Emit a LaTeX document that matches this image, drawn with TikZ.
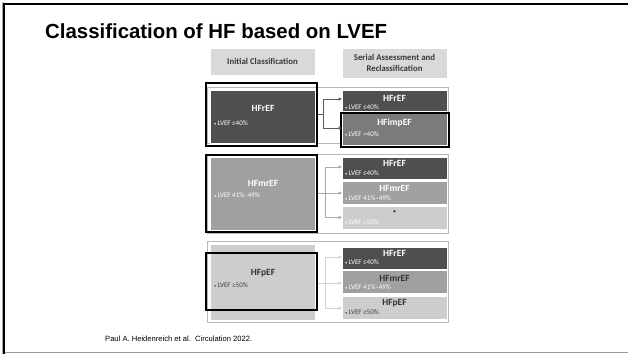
\documentclass[tikz,border=0pt]{standalone}
\usepackage{fontspec}
\setmainfont{Liberation Sans}
\newfontfamily\boxfont{Carlito}
\usetikzlibrary{arrows.meta}

\definecolor{gdark}{HTML}{4F4F4F}
\definecolor{gimp}{HTML}{7B7B7B}
\definecolor{gmid}{HTML}{A0A0A0}
\definecolor{glight}{HTML}{CDCDCD}
\definecolor{ghead}{HTML}{D9D9D9}
\definecolor{gframe}{HTML}{B8B8B8}
\definecolor{arrA}{HTML}{5A5A5A}
\definecolor{arrB}{HTML}{A8A8A8}
\definecolor{arrC}{HTML}{D2D2D2}

% small list bullet
\newcommand{\sbul}{{\fontsize{4.5}{5}\selectfont\raisebox{0.3pt}{•}}\,}

\tikzset{
  panel/.style={draw=white, line width=0.8pt, inner sep=0pt, outer sep=0pt},
  groupframe/.style={draw=gframe, line width=0.7pt, fill=white},
  highlight/.style={draw=black, line width=2pt, inner sep=0pt},
  headbox/.style={fill=ghead, draw=white, inner sep=0pt, align=center,
    font=\boxfont\bfseries\fontsize{8.8}{10.5}\selectfont, text=black!78},
  bigname/.style={font=\boxfont\bfseries\fontsize{9.5}{10}\selectfont, inner sep=0pt},
  smallname/.style={font=\boxfont\bfseries\fontsize{9.5}{10}\selectfont, inner sep=0pt},
  crit/.style={font=\boxfont\fontsize{7}{8}\selectfont, inner sep=0pt, anchor=west},
  flow/.style={line width=0.7pt, -{Triangle[length=3.5pt,width=3pt]}},
}

\begin{document}
\begin{tikzpicture}[x=1pt,y=-1pt]
\useasboundingbox (0,0) rectangle (628,354);
\fill[white] (0,0) rectangle (628,354);

% slide frame
\draw[black, line width=2pt] (4,354) -- (4,3.7) -- (628,3.7);
\draw[gray!70, line width=0.8pt] (2,354) -- (2,2);
\draw[gray!80, line width=1.2pt] (5,352.6) -- (628,352.6);

% heading
\node[font=\bfseries\fontsize{20.4}{23}\selectfont, anchor=west, inner sep=0pt] (title) at (45,31) {Classification of HF based on LVEF};

% column headers
\node[headbox, minimum width=105pt, minimum height=27pt] (hInit) at (262.5,61.5) {Initial Classification};
\node[headbox, minimum width=105pt, minimum height=30pt] (hSerial) at (394.5,63) {Serial Assessment and\\Reclassification};

% ===== group 1 : HFrEF =====
\node[groupframe, minimum width=241pt, minimum height=56pt, inner sep=0pt] (g1) at (327.5,115) {};
\node[panel, fill=gdark, minimum width=105pt, minimum height=53pt] (l1) at (262.5,116.5) {};
\node[bigname, text=white] (l1t) at (263,108) {HFrEF};
\node[crit, text=white] (l1c) at (214,123) {\sbul LVEF ≤40\%};
\node[panel, fill=gdark, minimum width=105pt, minimum height=21pt] (r1a) at (394.5,100.5) {};
\node[smallname, text=white] (r1at) at (394.5,98) {HFrEF};
\node[crit, text=white] (r1ac) at (345,107.5) {\sbul LVEF ≤40\%};
\node[panel, fill=gimp, minimum width=105pt, minimum height=32pt] (r1b) at (394.5,129.5) {};
\node[smallname, text=white] (r1bt) at (394.5,123) {HFimpEF};
\node[crit, text=white] (r1bc) at (345,134) {\sbul LVEF >40\%};
\node[highlight, minimum width=111pt, minimum height=63pt] (k1) at (261.5,114.5) {};
\node[highlight, minimum width=108pt, minimum height=34pt] (k1b) at (395,130) {};
\coordinate (b1) at (323.5,114);
\draw[arrA, line width=0.7pt] (k1.east |- b1) -- (b1);
\draw[flow, arrA] (b1) |- (r1a.west |- 0,99);
\draw[flow, arrA] (b1) |- (r1b.west |- 0,128);

% ===== group 2 : HFmrEF =====
\node[groupframe, minimum width=241pt, minimum height=79pt, inner sep=0pt] (g2) at (327.5,194) {};
\node[panel, fill=gmid, minimum width=105pt, minimum height=73pt] (l2) at (262.5,194) {};
\node[bigname, text=white] (l2t) at (263,183) {HFmrEF};
\node[crit, text=white] (l2c) at (214,195.5) {\sbul LVEF 41\%–49\%};
\node[panel, fill=gdark, minimum width=105pt, minimum height=22pt] (r2a) at (394.5,168.5) {};
\node[smallname, text=white] (r2at) at (394.5,163) {HFrEF};
\node[crit, text=white] (r2ac) at (345,173) {\sbul LVEF ≤40\%};
\node[panel, fill=gmid, minimum width=105pt, minimum height=23pt] (r2b) at (394.5,193) {};
\node[smallname, text=white] (r2bt) at (394.5,188) {HFmrEF};
\node[crit, text=white] (r2bc) at (345,198.5) {\sbul LVEF 41\%–49\%};
\node[panel, fill=glight, minimum width=105pt, minimum height=23pt] (r2c) at (394.5,217.5) {};
\node[font=\boxfont\fontsize{6}{7}\selectfont, inner sep=0pt, text=black!85] (r2ct) at (394.5,212) {•};
\node[crit, text=white] (r2cc) at (345,222.5) {\sbul LVEF ≥50\%};
\node[highlight, minimum width=111pt, minimum height=77pt] (k2) at (261.5,193.5) {};
\coordinate (b2) at (325,193);
\draw[arrB, line width=0.7pt] (k2.east |- b2) -- (b2);
\draw[flow, arrB] (b2) |- (r2a.west |- 0,167);
\draw[flow, arrB] (b2) -- (r2b.west |- b2);
\draw[flow, arrB] (b2) |- (r2c.west |- 0,217.5);

% ===== group 3 : HFpEF =====
\node[groupframe, minimum width=241pt, minimum height=81pt, inner sep=0pt] (g3) at (327.5,281.5) {};
\node[panel, fill=glight, minimum width=105pt, minimum height=76pt] (l3) at (262.5,282.5) {};
\node[bigname, text=black!80] (l3t) at (263,273) {HFpEF};
\node[crit, text=black!75] (l3c) at (214,285) {\sbul LVEF ≥50\%};
\node[panel, fill=gdark, minimum width=105pt, minimum height=22pt] (r3a) at (394.5,258) {};
\node[smallname, text=white] (r3at) at (394.5,253) {HFrEF};
\node[crit, text=white] (r3ac) at (345,262.5) {\sbul LVEF ≤40\%};
\node[panel, fill=gmid, minimum width=105pt, minimum height=23pt] (r3b) at (394.5,282) {};
\node[smallname, text=black!80] (r3bt) at (394.5,278) {HFmrEF};
\node[crit, text=white] (r3bc) at (345,287) {\sbul LVEF 41\%–49\%};
\node[panel, fill=glight, minimum width=105pt, minimum height=23pt] (r3c) at (394.5,308) {};
\node[smallname, text=black!80] (r3ct) at (394.5,303) {HFpEF};
\node[crit, text=black!75] (r3cc) at (345,312.5) {\sbul LVEF ≥50\%};
\node[highlight, minimum width=111pt, minimum height=57pt] (k3) at (261.5,281) {};
\coordinate (b3) at (325,283);
\draw[arrC, line width=0.7pt] (k3.east |- b3) -- (b3);
\draw[flow, arrC] (b3) |- (r3a.west |- 0,257);
\draw[flow, arrC] (b3) -- (r3b.west |- b3);
\draw[flow, arrC] (b3) |- (r3c.west |- 0,308);

% source
\node[font=\fontsize{7.6}{9}\selectfont, anchor=west, inner sep=0pt] (src) at (105,339) {Paul A. Heidenreich et al.\ \ Circulation 2022.};
\end{tikzpicture}
\end{document}
